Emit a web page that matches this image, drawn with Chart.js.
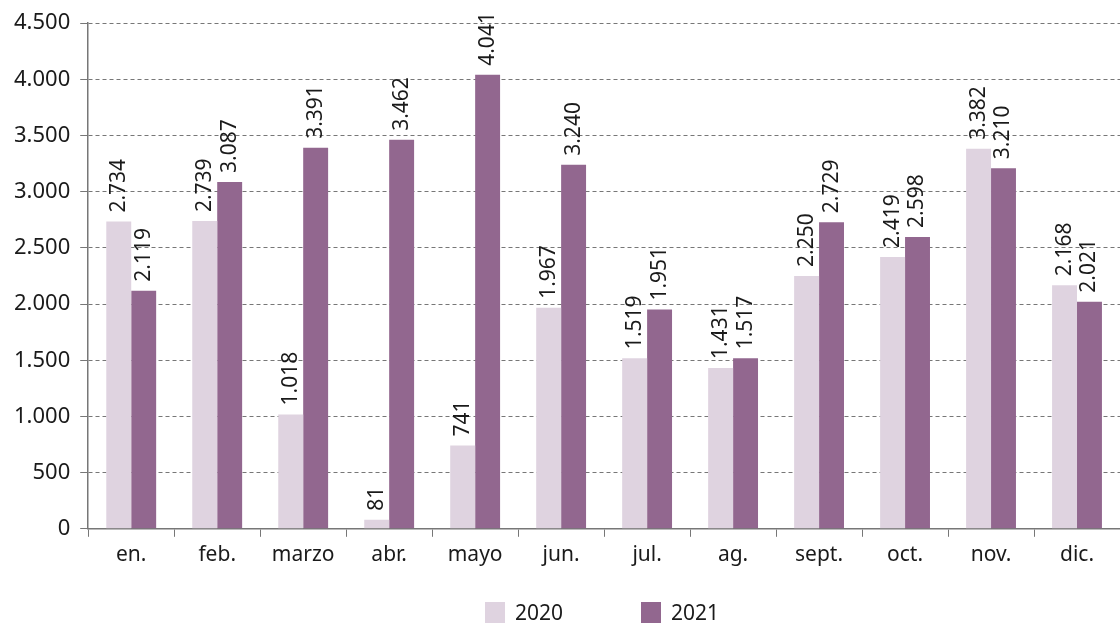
<!DOCTYPE html>
<html>
<head>
<meta charset="utf-8">
<script src="https://cdn.jsdelivr.net/npm/chart.js@4/dist/chart.umd.min.js"></script>
<style>
  html, body { margin: 0; padding: 0; background: #fff; }
  #wrap { width: 1120px; height: 624px; position: relative; }
  #legend {
    position: absolute; left: 84px; width: 1036px; top: 601px;
    display: flex; justify-content: center; gap: 78px;
    font: 21px "Noto Sans", "DejaVu Sans", sans-serif; color: #1a1a1a;
  }
  #legend .item { display: flex; align-items: center; line-height: 22px; }
  #legend .sw { width: 20px; height: 21px; margin-right: 10px; }
</style>
</head>
<body>
<div id="wrap"><canvas id="chart"></canvas><div id="legend"></div></div>
<script>
var months = ['en.', 'feb.', 'marzo', 'abr.', 'mayo', 'jun.', 'jul.', 'ag.', 'sept.', 'oct.', 'nov.', 'dic.'];
var values2020 = [2734, 2739, 1018, 81, 741, 1967, 1519, 1431, 2250, 2419, 3382, 2168];
var values2021 = [2119, 3087, 3391, 3462, 4041, 3240, 1951, 1517, 2729, 2598, 3210, 2021];
var yTicks = [0, 500, 1000, 1500, 2000, 2500, 3000, 3500, 4000, 4500];

var FONT = '"Noto Sans", "DejaVu Sans", sans-serif';

function fmt( v ){
    return String( v ).replace( /\B(?=(\d{3})+(?!\d))/g, '.' );
}

// rotated value labels over each bar
var barLabels = {
    id: 'barLabels',
    afterDatasetsDraw: function( chart ){
        var ctx = chart.ctx;
        chart.data.datasets.forEach( function( ds, i ){
            var meta = chart.getDatasetMeta( i );
            meta.data.forEach( function( bar, j ){
                ctx.save();
                ctx.translate( bar.x, bar.y - 9 );
                ctx.rotate( -Math.PI / 2 );
                ctx.font = '21px ' + FONT;
                ctx.fillStyle = '#1a1a1a';
                ctx.textAlign = 'left';
                ctx.textBaseline = 'middle';
                ctx.fillText( fmt( ds.data[ j ] ), 0, 0 );
                ctx.restore();
            } );
        } );
    }
};

var chart = new Chart( document.getElementById( 'chart' ).getContext( '2d' ), {
    type: 'bar',
    data: {
        labels: months,
        datasets: [
            { label: '2020', data: values2020, backgroundColor: '#dfd3e0', categoryPercentage: 0.58, barPercentage: 1.0 },
            { label: '2021', data: values2021, backgroundColor: '#92678f', categoryPercentage: 0.58, barPercentage: 1.0 }
        ]
    },
    options: {
        responsive: true,
        maintainAspectRatio: false,
        animation: false,
        layout: { padding: { top: 4, right: 0, left: 4, bottom: 50 } },
        plugins: {
            legend: { display: false },
            tooltip: { enabled: false }
        },
        scales: {
            x: {
                offset: true,
                grid: { offset: true, drawOnChartArea: false, drawTicks: true, tickLength: 8, color: '#777', tickColor: '#777' },
                border: { color: '#777', width: 1.5 },
                ticks: { font: { family: FONT, size: 21 }, color: '#1a1a1a', padding: 6, maxRotation: 0 }
            },
            y: {
                min: 0, max: 4500,
                afterBuildTicks: function( axis ){
                    axis.ticks = yTicks.map( function( v ){ return { value: v }; } );
                },
                grid: { color: '#777', tickBorderDash: [], tickLength: 8, tickColor: '#777' },
                border: { color: '#777', width: 1.5, dash: [4, 3] },
                ticks: {
                    font: { family: FONT, size: 22 }, color: '#1a1a1a', padding: 10,
                    callback: function( v ){ return fmt( v ); }
                }
            }
        }
    },
    plugins: [ barLabels ]
} );

// legend built from the datasets
var legend = document.getElementById( 'legend' );
chart.data.datasets.forEach( function( ds ){
    legend.innerHTML += '<div class="item"><div class="sw" style="background:' + ds.backgroundColor + '"></div><span>' + ds.label + '</span></div>';
} );
</script>
</body>
</html>
